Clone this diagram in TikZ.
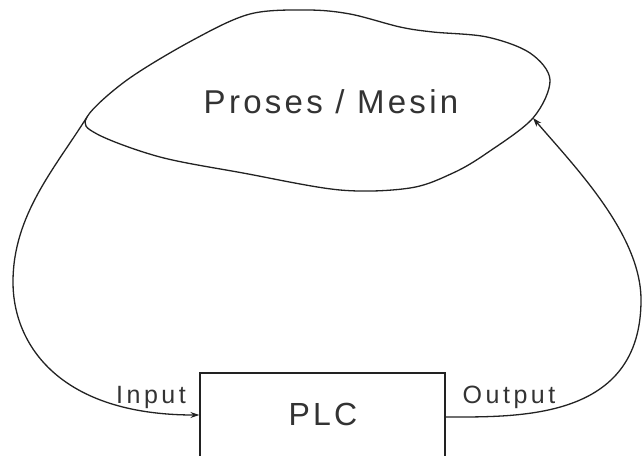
\documentclass[tikz,border=0pt]{standalone}
\usepackage{fontspec}
\setmainfont{Liberation Sans}
\newfontfamily\labelfont[LetterSpace=10]{Liberation Sans}
\newfontfamily\tagfont[LetterSpace=14]{Liberation Sans}
\usetikzlibrary{positioning}
\usetikzlibrary{arrows.meta}
\definecolor{inkgray}{HTML}{222222}
\definecolor{textgray}{HTML}{333333}
\tikzset{x=1pt,y=-1pt,
    cloud/.style={
        draw=inkgray},
    plcbox/.style={
        draw=inkgray,
        minimum width=245,
        minimum height=120},
    bigtext/.style={
        anchor=base,
        text=textgray,
        font=\labelfont\fontsize{33}{38}\selectfont},
    smalltext/.style={
        anchor=base,
        text=textgray,
        font=\tagfont\fontsize{25}{30}\selectfont},
    signal/.style={
        draw=inkgray,
        ->,>={Stealth[length=9pt,width=6pt]}}}

\begin{document}
\begin{tikzpicture}[line width=1.3pt]
        \useasboundingbox (0,0) rectangle (642,455);
        \clip (0,0) rectangle (642,455);

        % proses / mesin
        \draw[cloud] plot[smooth cycle,tension=0.55] coordinates {(87,117) (127,80) (193,40)
            (250,14) (307,10) (350,14) (400,27) (433,32) (487,37) (530,53) (550,80)
            (533,118) (487,153) (453,173) (410,188) (340,190) (243,173) (160,157) (97,134)};
        \coordinate (inTap) at (87,117);
        \coordinate (outTap) at (533,118);
        \coordinate (inLeft) at (13,282);
        \coordinate (outRight) at (641,300);
        \node[bigtext] (proses) at (331,113) {Proses / Mesin};

        % plc
        \node[plcbox] (plc) at (322.5,433) {};
        \node[bigtext,font=\labelfont\fontsize{32}{36}\selectfont] (plcname) at (323,425) {PLC};

        \node[smalltext] (input) at (151,403) {Input};
        \node[smalltext] (output) at (509,403) {Output};

        \draw[signal] (inTap) .. controls (55,168) and (13,215) .. (inLeft)
            .. controls (13,345) and (60,415) .. (plc.west |- 0,415);
        \draw[signal] (plc.east |- 0,417) .. controls (520,417) and (641,420) .. (outRight)
            .. controls (641,235) and (576,168) .. (outTap);
    \end{tikzpicture}
\end{document}
